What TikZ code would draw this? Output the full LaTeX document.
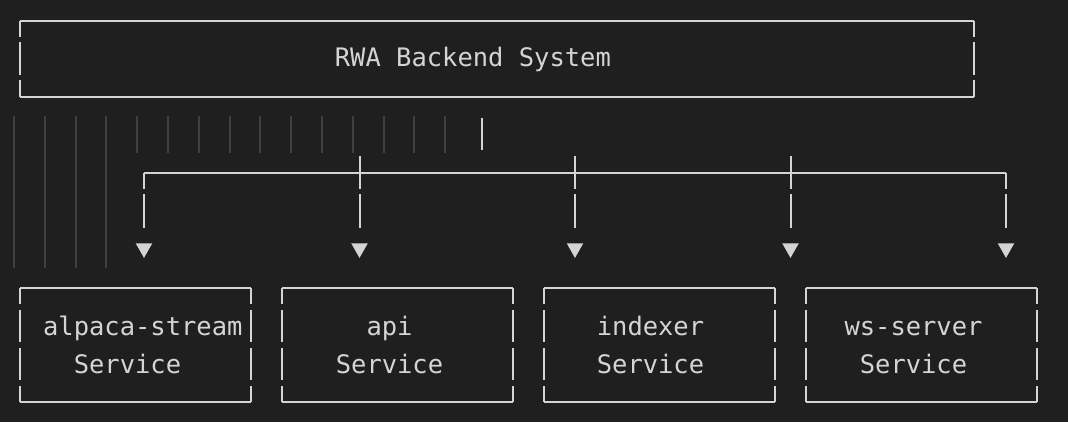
\documentclass[tikz,border=0pt]{standalone}
\usepackage{fontspec}
\setmonofont{DejaVu Sans Mono}
\usetikzlibrary{arrows.meta}

\definecolor{bgdark}{HTML}{1F1F1F}
\definecolor{ink}{HTML}{D4D4D4}
\definecolor{guide}{HTML}{404040}

\begin{document}
\begin{tikzpicture}[
  x=0.75pt, y=-0.75pt,
  every node/.style={font=\ttfamily\fontsize{19.1pt}{28.5pt}\selectfont,
    text=ink, inner sep=0pt, outer sep=0pt},
  box/.style={minimum width=173.25pt, minimum height=85.5pt},
  topbox/.style={minimum width=715.5pt, minimum height=57pt},
  rim/.style={draw=ink, line width=1.5pt},
  svcside/.style={rim, dash pattern=on 12pt off 4.5pt on 24pt off 4.5pt on 24pt off 4.5pt on 12pt},
  topside/.style={rim, dash pattern=on 12pt off 3.75pt on 24.75pt off 3.75pt on 12.75pt},
  wire/.style={draw=ink, line width=1.5pt},
  feed/.style={wire, -{Triangle[length=11pt, width=12pt]}, shorten >=22.5pt,
    dash pattern=on 12pt off 3.75pt on 25.5pt off 30pt},
  indent/.style={draw=guide, line width=1pt}
]
\path[use as bounding box, fill=bgdark] (0,0) rectangle (1068,422);

\node[topbox] (rwa) at (497,59) {};
\node (rwatx) at (472.9,59) {RWA Backend System};

\node[box] (alpaca) at (135.5,345) {};
\node[box] (api) at (397.5,345) {};
\node[box] (indexer) at (659,345) {};
\node[box] (wssrv) at (921.5,345) {};
\node[align=left] (alpacatx) at (142.8,345) {alpaca-stream\\\ \ Service};
\node[align=center] (apitx) at (389.5,345) {api\\Service};
\node[align=center] (indexertx) at (650.5,345) {indexer\\Service};
\node[align=center] (wssrvtx) at (913.5,345) {ws-server\vphantom{l}\\Service};

\foreach \x in {14,45,76,106} \draw[indent] (\x,116) -- (\x,268);
\foreach \x in {137,168,199,230,260,291,322,353,384,414,445} \draw[indent] (\x,116) -- (\x,153);
\draw[wire] (482,118) -- (482,150);

\draw[rim] (rwa.north west) -- (rwa.north east);
\draw[rim] (rwa.south west) -- (rwa.south east);
\draw[topside] (rwa.north west) -- (rwa.south west);
\draw[topside] (rwa.north east) -- (rwa.south east);
\foreach \b in {alpaca,api,indexer,wssrv} {
  \draw[rim] (\b.north west) -- (\b.north east);
  \draw[rim] (\b.south west) -- (\b.south east);
  \draw[svcside] (\b.north west) -- (\b.south west);
  \draw[svcside] (\b.north east) -- (\b.south east);
}

\coordinate (t1) at (144,173);
\coordinate (t2) at (359.5,173);
\coordinate (t3) at (575,173);
\coordinate (t4) at (790.5,173);
\coordinate (t5) at (1006,173);
\draw[wire] (t1) -- (t5);
\foreach \t in {t2,t3,t4} \draw[wire] (\t) -- ++(0,-17);
\draw[feed] (t1) -- (t1 |- alpaca.north);
\draw[feed] (t2) -- (t2 |- api.north);
\draw[feed] (t3) -- (t3 |- indexer.north);
\draw[feed] (t4) -- (t4 |- indexer.north);
\draw[feed] (t5) -- (t5 |- wssrv.north);
\end{tikzpicture}
\end{document}
